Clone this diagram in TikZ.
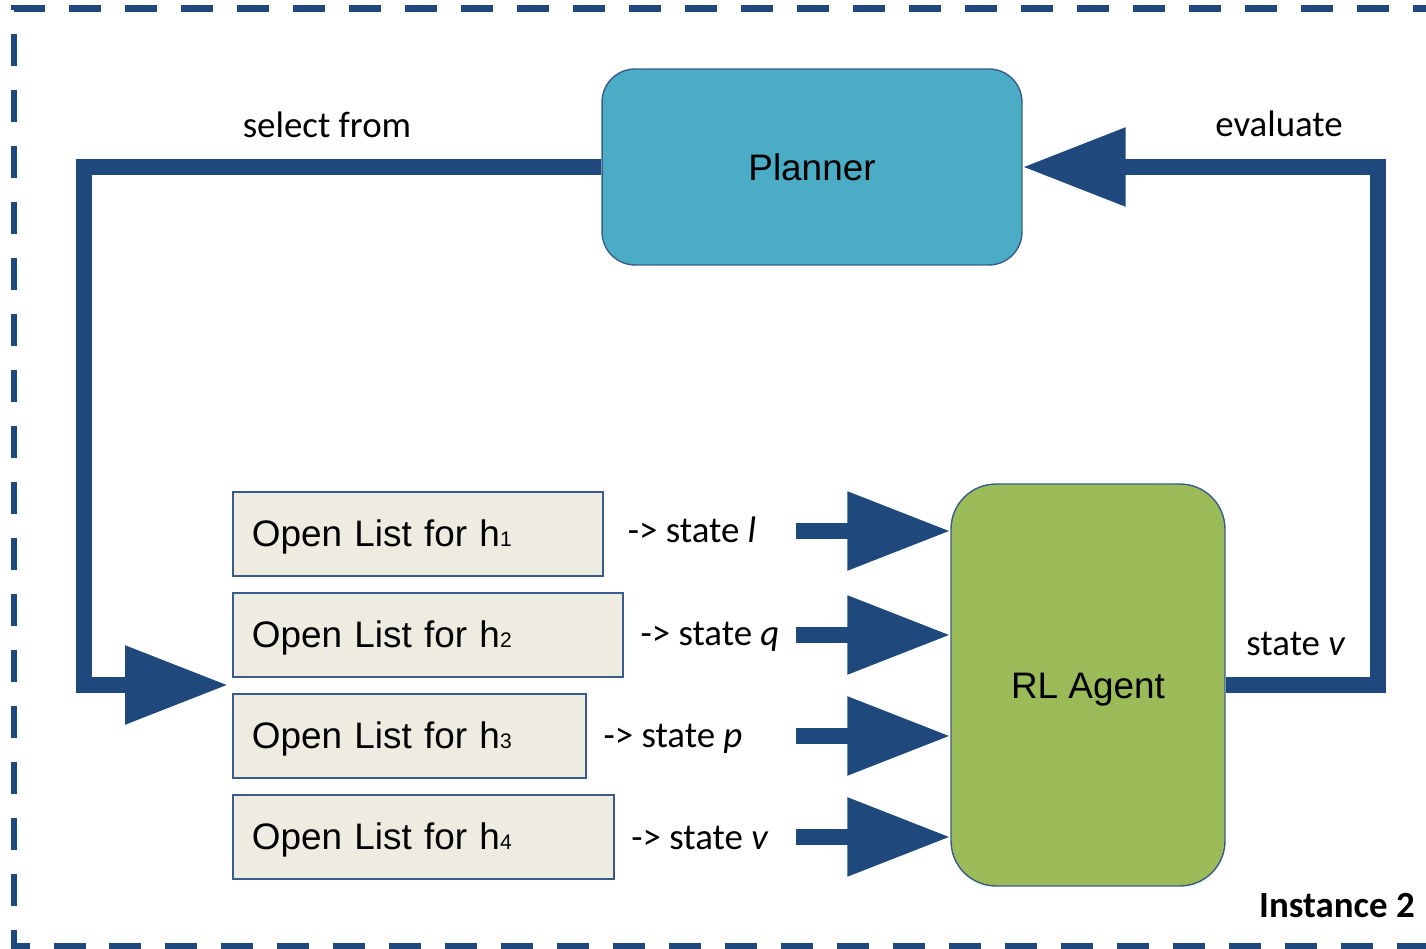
\documentclass[tikz,border=0pt]{standalone}
\usepackage{fontspec}
\setmainfont{Carlito}
\newfontfamily\arialfont{Liberation Sans}
\usetikzlibrary{arrows.meta, calc, positioning}

\definecolor{loopblue}{RGB}{31,73,125}
\definecolor{plannerfill}{RGB}{75,172,198}
\definecolor{agentfill}{RGB}{155,187,89}
\definecolor{listfill}{RGB}{238,236,225}
\definecolor{listedge}{RGB}{56,93,138}

\newcommand{\hsub}[1]{h{\fontsize{12pt}{12pt}\selectfont #1}}

\tikzstyle{planner} = [
	rectangle,
	rounded corners=0.66cm,
	minimum width=8.4cm,
	minimum height=3.92cm,
	draw=listedge,
	line width=0.8pt,
	fill=plannerfill,
	font=\arialfont\fontsize{21pt}{25pt}\selectfont
]
\tikzstyle{agent} = [
	rectangle,
	rounded corners=0.9cm,
	minimum width=5.48cm,
	minimum height=8.04cm,
	text height=0.52cm,
	text depth=0pt,
	draw=listedge,
	line width=0.8pt,
	fill=agentfill,
	font=\arialfont\fontsize{21pt}{25pt}\selectfont
]
\tikzstyle{openlist} = [
	rectangle,
	inner xsep=0.38cm,
	minimum height=1.68cm,
	text height=0.52cm,
	text depth=0pt,
	align=left,
	draw=listedge,
	line width=1pt,
	fill=listfill,
	font=\arialfont\fontsize{21pt}{25pt}\selectfont
]
\tikzstyle{statetext} = [
	anchor=base,
	inner sep=0pt,
	font=\fontsize{21pt}{25pt}\selectfont
]
\tikzstyle{blockarrow} = [
	line width=0.31cm,
	draw=loopblue,
	line join=miter,
	-{Triangle[length=2.06cm, width=1.5cm]}
]
\tikzstyle{border} = [
	loopblue,
	line width=0.14cm,
	dash pattern=on 0.64cm off 0.48cm
]

\begin{document}
\begin{tikzpicture}[x=0.02cm, y=-0.02cm, node distance=0.305cm]
		\useasboundingbox (0,0) rectangle (1426,949);

		\draw [border] (1445,9) -- (14,9) -- (14,946) -- (1445,946);

		\node (planner) [planner] at (812,167) {Planner};
		\node (agent) [agent] at (1088,685) {RL Agent};

		\node (list1) [openlist, text width=6.64cm, anchor=west] at (232,534) {Open List for \hsub{1}};
		\node (list2) [openlist, text width=7.04cm, below=of list1.south west, anchor=north west] {Open List for \hsub{2}};
		\node (list3) [openlist, text width=6.30cm, below=of list2.south west, anchor=north west] {Open List for \hsub{3}};
		\node (list4) [openlist, text width=6.86cm, below=of list3.south west, anchor=north west] {Open List for \hsub{4}};

		\node (state1) [statetext] at (692,542) {-> state \textit{l}};
		\node (state2) [statetext] at (710,645) {-> state \textit{q}};
		\node (state3) [statetext] at (673,747) {-> state \textit{p}};
		\node (state4) [statetext] at (700,849) {-> state \textit{v}};

		\node (select) [statetext] at (327,138) {select from};
		\node (evaluate) [statetext] at (1279,137) {evaluate};
		\node (statev) [statetext] at (1296,655) {state \textit{v}};
		\node (instance) [statetext, anchor=base east, font=\fontsize{21pt}{25pt}\selectfont\bfseries] at (1415,917) {Instance 2};

		% lists feeding the agent
		\draw [blockarrow] ($(agent.west |- list1)+(-154,-3)$) -- ($(agent.west |- list1)+(0,-3)$);
		\draw [blockarrow] ($(agent.west |- list2)+(-154,0)$) -- (agent.west |- list2);
		\draw [blockarrow] ($(agent.west |- list3)+(-154,0)$) -- (agent.west |- list3);
		\draw [blockarrow] ($(agent.west |- list4)+(-154,0)$) -- (agent.west |- list4);

		% outer loop
		\coordinate (evalcorner) at (1378,685);
		\coordinate (selectcorner) at (84,167);
		\coordinate (listentry) at (228,685);
		\draw [blockarrow] (agent.east) -- (evalcorner) |- (planner.east);
		\draw [blockarrow] (planner.west) -- (selectcorner) |- (listentry);
	\end{tikzpicture}
\end{document}
